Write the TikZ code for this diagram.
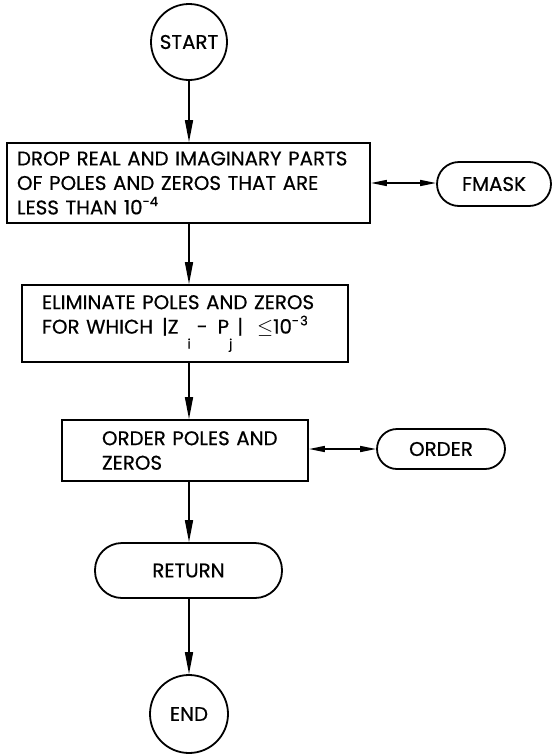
\documentclass[tikz,border=0pt]{standalone}
\usepackage{fontspec}
\setmainfont{Poppins}[FakeBold=0.6]
\usetikzlibrary{arrows.meta}
% raised and lowered index text
\newcommand\upidx[1]{\raisebox{0.42em}{\fontsize{13}{13}\selectfont #1}}
\newcommand\dnidx[1]{\raisebox{-0.75em}{\fontsize{13}{13}\selectfont #1}}
\begin{document}
\begin{tikzpicture}[x=1pt,y=-1pt,
  every node/.style={font=\fontsize{19.8}{24.5}\selectfont},
  flow/.style={line width=1.6pt,-{Triangle[length=22pt,width=8pt]}},
  link/.style={line width=1.6pt,{Triangle[length=16pt,width=6pt]}-{Triangle[length=16pt,width=6pt]}},
  procbox/.style={draw,line width=1.8pt,rectangle,inner sep=0pt,align=left},
  terminal/.style={draw,line width=1.8pt,rectangle,inner sep=0pt},
  endpoint/.style={draw,circle,line width=1.8pt,inner sep=0pt}
]
\useasboundingbox (0,0) rectangle (556,755);

% main column
\node[endpoint,minimum size=76pt] (start) at (189,42) {START};
\node[procbox,minimum width=363pt,minimum height=80pt,text width=343pt] (b1) at (188.5,183)
  {DROP REAL AND IMAGINARY PARTS\\OF POLES AND ZEROS THAT ARE\\LESS THAN 10\upidx{-4}};
\node[procbox,minimum width=326pt,minimum height=77pt,text width=286pt] (b2) at (185,323.5)
  {ELIMINATE POLES AND ZEROS\\FOR WHICH\hspace{9pt}|Z\hspace{9pt}\dnidx{i}\hspace{6pt}-\hspace{10pt}P\dnidx{j}\hspace{5pt}|\hspace{14pt}$\leq$10\upidx{-\kern1pt 3}};
\node[procbox,minimum width=246pt,minimum height=61pt,text width=206pt] (b3) at (185,450.5)
  {\hspace*{20pt}ORDER POLES AND\\\hspace*{20pt}ZEROS};
\node[terminal,minimum width=187pt,minimum height=55pt,rounded corners=27pt] (ret) at (188.5,570.5) {RETURN};
\node[endpoint,minimum size=78pt] (end) at (189,714) {END};

% side routines
\node[terminal,minimum width=114pt,minimum height=44pt,rounded corners=22pt] (fmask) at (494,184) {FMASK};
\node[terminal,minimum width=128pt,minimum height=40pt,rounded corners=20pt] (order) at (441,449) {ORDER};

% connectors
\draw[flow] (start.south) -- (start.south |- b1.north);
\draw[flow] (b1.south -| start) -- (b2.north -| start);
\draw[flow] (b2.south -| start) -- (b3.north -| start);
\draw[flow] (b3.south -| start) -- (ret.north -| start);
\draw[flow] (ret.south -| start) -- (end.north);
\draw[link] (b1.east) -- (b1.east -| fmask.west);
\draw[link] (b3.east |- order) -- (order.west);
\end{tikzpicture}
\end{document}
